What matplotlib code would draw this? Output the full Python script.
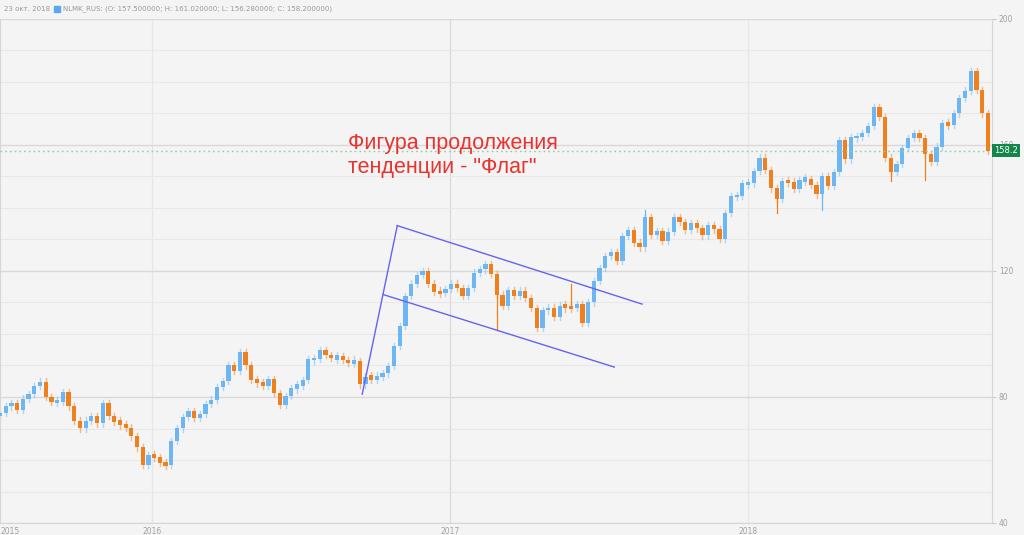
import pandas as pd
import matplotlib
matplotlib.use("Agg")
import matplotlib.pyplot as plt
import matplotlib.dates as mdates
from matplotlib.patches import Rectangle

# === weekly closes NLMK_RUS (Jun 2015 - Oct 2018) ===
first_week = "2015-06-29"
first_open = 74.0
closes = [
    75.0, 77.0, 78.2, 76.0, 79.5, 81.0, 83.5, 84.9, 80.0, 78.5,
    78.5, 81.5, 77.0, 72.5, 70.0, 72.5, 74.0, 71.6, 78.0, 74.0,
    72.2, 71.4, 70.3, 67.5, 64.0, 58.4, 61.5, 61.0, 59.0, 58.5,
    66.0, 70.0, 73.7, 75.5, 73.4, 74.6, 77.8, 79.2, 83.2, 85.0,
    90.2, 88.2, 94.2, 90.0, 85.3, 84.7, 83.6, 85.8, 81.2, 77.5,
    80.4, 82.8, 83.6, 85.5, 92.0, 92.0, 95.0, 93.4, 92.3, 93.0,
    91.7, 90.8, 91.5, 84.0, 86.5, 85.7, 86.4, 87.5, 89.8, 96.2,
    102.5, 112.0, 116.0, 118.7, 120.0, 116.0, 113.4, 113.0, 114.3, 116.0,
    114.5, 112.0, 114.5, 119.5, 120.5, 122.3, 119.0, 112.5, 108.8, 114.0,
    112.0, 113.8, 111.5, 108.3, 101.8, 107.5, 108.4, 105.5, 109.0, 108.5,
    108.4, 109.5, 103.5, 110.0, 116.8, 121.0, 124.8, 126.0, 123.3, 131.0,
    133.0, 129.0, 127.5, 137.0, 131.5, 132.8, 129.5, 132.5, 137.2, 135.5,
    133.0, 135.1, 133.5, 131.3, 134.6, 133.2, 130.3, 138.5, 143.8, 143.8,
    147.8, 147.8, 151.7, 156.0, 152.0, 146.2, 143.0, 148.5, 148.4, 146.0,
    148.8, 149.3, 147.3, 144.3, 150.2, 147.0, 151.5, 161.5, 155.4, 162.5,
    162.5, 163.7, 166.0, 172.0, 168.8, 156.0, 151.5, 154.0, 159.0, 162.2,
    163.7, 162.2, 157.0, 154.7, 159.5, 167.0, 166.5, 170.0, 175.0, 177.3,
    183.5, 177.5, 170.0, 158.2,
]

# single long shadows that stick out of the band
wick_dates = ["2017-02-27", "2017-05-29", "2017-08-28", "2018-02-05",
              "2018-04-02", "2018-06-25", "2018-08-06"]
wick_ends = [101.3, 116.0, 139.4, 138.3, 139.5, 148.5, 149.0]

# flag pattern drawn by hand on the chart
pole_dates = ["2016-09-15", "2016-10-28"]
pole_prices = [80.9, 134.4]
upper_dates = ["2016-10-28", "2017-08-24"]
upper_prices = [134.4, 109.5]
lower_dates = ["2016-10-11", "2017-07-21"]
lower_prices = [112.5, 89.5]

last_close = 158.2
year_ticks = ["2016-01-01", "2017-01-01", "2018-01-01"]
year_labels = ["2015", "2016", "2017", "2018"]
y_labels = [40, 80, 120, 160, 200]

BG = "#f4f4f4"
UP = "#6cb6f4"
DOWN = "#f0801e"
FLAG = "#6464ee"

dates = pd.date_range(first_week, periods=len(closes), freq="7D")
opens = [first_open] + closes[:-1]
x = mdates.date2num(dates)

fig = plt.figure(figsize=(10.24, 5.35), dpi=100, facecolor=BG)
ax = fig.add_axes([0.0, 1 - 523 / 535, 992 / 1024, (523 - 19) / 535])
ax.set_facecolor(BG)

x0 = mdates.date2num(pd.Timestamp(first_week))
ax.set_xlim(x0, x0 + 1216)
ax.set_ylim(40, 200)

# grid
ax.set_yticks(y_labels)
ax.set_yticks(range(40, 201, 10), minor=True)
ax.grid(which="minor", axis="y", color="#e8e8e8", lw=0.8)
ax.grid(which="major", axis="y", color="#d9d9d9", lw=1.0)
for d in year_ticks:
    ax.axvline(pd.Timestamp(d), color="#d9d9d9" if d.startswith("2017") else "#e6e6e6",
               lw=0.9, zorder=0.5)

# candles
colors = [UP if c >= o else DOWN for o, c in zip(opens, closes)]
for xi, o, c, col in zip(x, opens, closes, colors):
    lo, hi = min(o, c), max(o, c)
    if hi - lo < 0.8:
        hi += 0.4
        lo -= 0.4
    ax.add_patch(Rectangle((xi - 2.6, lo), 5.2, hi - lo, color=col, lw=0, zorder=3))
    ax.plot([xi, xi], [lo - 1.0, hi + 1.0], color=col, lw=1.0, zorder=2.5, alpha=0.5)

for d, v in zip(wick_dates, wick_ends):
    xi = mdates.date2num(pd.Timestamp(d))
    i = int(round((xi - x0) / 7))
    ref = min(opens[i], closes[i]) if v < closes[i] else max(opens[i], closes[i])
    ax.plot([xi, xi], [ref, v], color=colors[i], lw=0.9, zorder=2.6)

# flag
for ds, ps in [(pole_dates, pole_prices), (upper_dates, upper_prices),
               (lower_dates, lower_prices)]:
    ax.plot(pd.to_datetime(ds), ps, color=FLAG, lw=1.0, zorder=4)

# last price
ax.axhline(last_close, color="#8ccfa2", lw=1.0, ls=(0, (1.2, 2.2)), zorder=4)
ax.text(1.002, last_close, f"{last_close:.1f}", transform=ax.get_yaxis_transform(),
        va="center", ha="left", fontsize=6, color="white", zorder=6,
        bbox=dict(boxstyle="square,pad=0.25", fc="#13874b", ec="none"), clip_on=False)

# axes look
ax.spines["top"].set_visible(False)
for s in ["right", "bottom", "left"]:
    ax.spines[s].set_color("#d6d6d6")
ax.yaxis.tick_right()
ax.set_yticklabels([str(v) for v in y_labels])
ax.tick_params(axis="y", which="major", length=3, color="#cccccc", labelsize=5.5,
               labelcolor="#a0a0a0", pad=2)
ax.tick_params(axis="y", which="minor", length=0)

ax.set_xticks([x0] + [mdates.date2num(pd.Timestamp(d)) for d in year_ticks])
ax.set_xticklabels(year_labels)
ax.tick_params(axis="x", length=0, labelsize=5.5, labelcolor="#a0a0a0", pad=3)
ax.get_xticklabels()[0].set_horizontalalignment("left")

# header
fig.text(4 / 1024, 1 - 9 / 535, "23 окт. 2018", fontsize=5, color="#9a9a9a", va="center")
fig.patches.append(Rectangle((54 / 1024, 1 - 12 / 535), 6 / 1024, 6 / 535,
                             transform=fig.transFigure, color="#5aa9f0"))
fig.text(63 / 1024, 1 - 9 / 535,
         "NLMK_RUS: (O: 157.500000; H: 161.020000; L: 156.280000; C: 158.200000)",
         fontsize=5, color="#9a9a9a", va="center")

# annotation
fig.text(348 / 1024, 1 - 133 / 535, "Фигура продолжения\nтенденции - \"Флаг\"",
         fontsize=15.5, color="#e8332f", va="top", ha="left", linespacing=1.2,
         family=["Liberation Sans", "DejaVu Sans"])

fig.savefig("out.png", dpi=100, facecolor=BG)
